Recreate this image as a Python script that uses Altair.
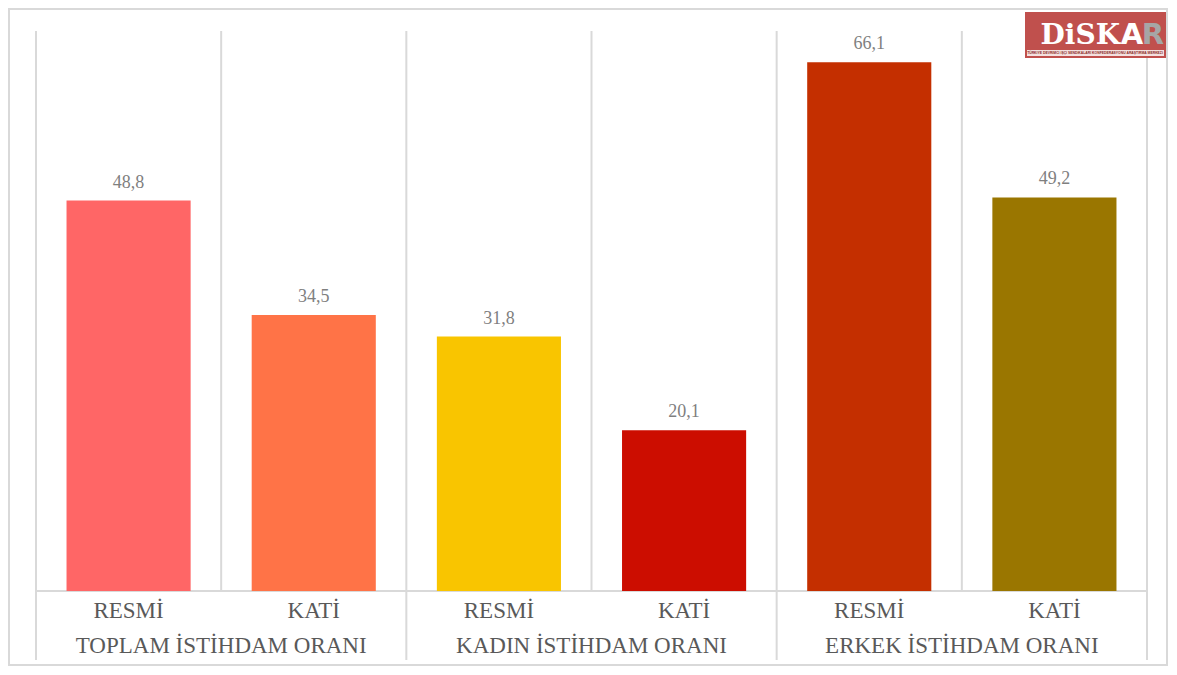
import altair as alt
import pandas as pd

# ---- data ----
groups = ["TOPLAM İSTİHDAM ORANI", "KADIN İSTİHDAM ORANI", "ERKEK İSTİHDAM ORANI"]
subs = ["RESMİ", "KATİ"]
values = [48.8, 34.5, 31.8, 20.1, 66.1, 49.2]
colors = ["#FF6666", "#FF7347", "#F9C500", "#CC0D00", "#C42F00", "#9A7600"]
logo_main = ["DiSK", "A", "R"]
logo_sub = "TÜRKİYE DEVRİMCİ İŞÇİ SENDİKALARI KONFEDERASYONU ARAŞTIRMA MERKEZİ"

rows = []
for i, v in enumerate(values):
    rows.append(dict(key=str(i), group=groups[i // 2], sub=subs[i % 2], value=v,
                     color=colors[i], label=f"{v:.1f}".replace(".", ","),
                     gstart=(i % 2 == 0)))
df = pd.DataFrame(rows)
keys = list(df["key"])

W, H = 1111, 560
FONT = "Liberation Serif"
GRID = "#d9d9d9"

xs = alt.Scale(domain=keys, paddingInner=0, paddingOuter=0)
ys = alt.Scale(domain=[0, 70])
x = alt.X("key:N", scale=xs, axis=None)
y = alt.Y("value:Q", scale=ys, axis=None)

base = alt.Chart(df)

bars = base.mark_bar(width=alt.RelativeBandSize(124 / 185)).encode(
    x=x, y=y, color=alt.Color("color:N", scale=None))

vals = base.mark_text(baseline="bottom", dy=-9, font=FONT, fontSize=18,
                      color="#7f7f7f").encode(x=x, y=y, text="label:N")

inner_rules = base.transform_filter("!datum.gstart").mark_rule(
    color=GRID, strokeWidth=2).encode(
    x=alt.X("key:N", scale=xs, axis=None, bandPosition=0),
    y=alt.value(0), y2=alt.value(H))

group_rules = base.transform_filter("datum.gstart").mark_rule(
    color=GRID, strokeWidth=2).encode(
    x=alt.X("key:N", scale=xs, axis=None, bandPosition=0),
    y=alt.value(0), y2=alt.value(H + 69))

right_rule = base.transform_filter("datum.key == '5'").mark_rule(
    color=GRID, strokeWidth=2).encode(
    x=alt.X("key:N", scale=xs, axis=None, bandPosition=1),
    y=alt.value(0), y2=alt.value(H + 69))

baseline = base.transform_filter("datum.key == '0'").mark_rule(
    color=GRID, strokeWidth=2).encode(
    x=alt.value(0), x2=alt.value(W), y=alt.value(H))

sub_lab = base.mark_text(baseline="middle", font=FONT, fontSize=23,
                         color="#595959").encode(
    x=x, y=alt.value(H + 20), text="sub:N")

grp_lab = base.transform_filter("datum.gstart").mark_text(
    baseline="middle", font=FONT, fontSize=23, color="#595959").encode(
    x=alt.X("key:N", scale=xs, axis=None, bandPosition=1),
    y=alt.value(H + 55), text="group:N")

one = alt.Chart(pd.DataFrame({"a": [1]}))

border = one.mark_rect(filled=False, stroke=GRID, strokeWidth=2).encode(
    x=alt.value(-27), x2=alt.value(1131), y=alt.value(-22), y2=alt.value(634))

logo_bg = one.mark_rect(color="#C0504D").encode(
    x=alt.value(989), x2=alt.value(1130), y=alt.value(-19), y2=alt.value(27))
logo_band = one.mark_rect(color="#F4E1E0").encode(
    x=alt.value(991), x2=alt.value(1128), y=alt.value(19), y2=alt.value(25))
logo_t1 = one.mark_text(font="DejaVu Serif", fontWeight="bold", fontSize=28,
                        color="white", align="right", baseline="alphabetic",
                        text=logo_main[0]).encode(x=alt.value(1084), y=alt.value(13))
logo_t2 = one.mark_text(font="DejaVu Sans", fontWeight="bold", fontSize=29,
                        color="white", align="center", baseline="alphabetic",
                        text=logo_main[1]).encode(x=alt.value(1096), y=alt.value(13))
logo_t3 = one.mark_text(font="DejaVu Sans", fontWeight="bold", fontSize=29,
                        color="#A6A6A6", align="center", baseline="alphabetic",
                        text=logo_main[2]).encode(x=alt.value(1117), y=alt.value(13))
logo_t4 = one.mark_text(font="Liberation Sans", fontWeight="bold", fontSize=3.4,
                        color="#8B2A27", align="center", baseline="middle",
                        text=logo_sub).encode(x=alt.value(1059), y=alt.value(22))

chart = alt.layer(
    border, inner_rules, group_rules, right_rule, baseline,
    bars, vals, sub_lab, grp_lab,
    logo_bg, logo_band, logo_t1, logo_t2, logo_t3, logo_t4
).properties(
    width=W, height=H,
    autosize=alt.AutoSizeParams(type="none"),
    padding={"left": 28, "top": 23, "right": 22, "bottom": 76},
    background="white",
).configure_view(stroke=None)

chart.save("out.html", embed_options={"renderer": "svg", "actions": False})
